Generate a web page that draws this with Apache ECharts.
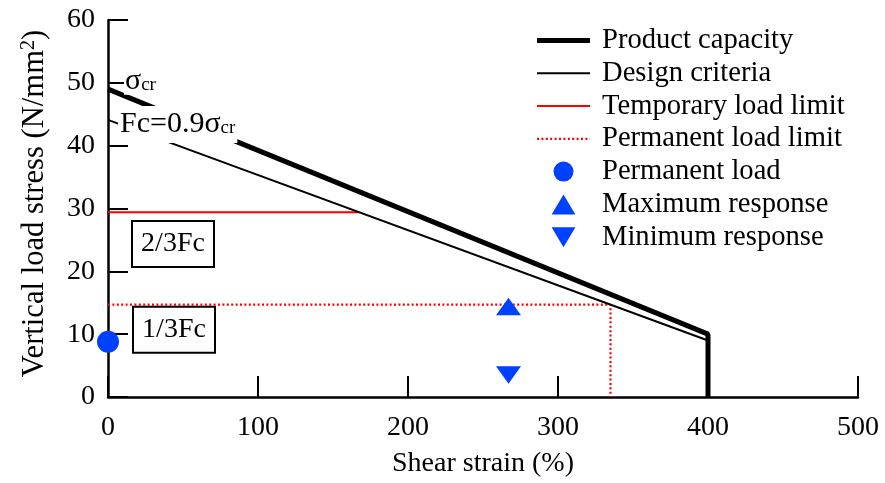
<!DOCTYPE html>
<html>
<head>
<meta charset="utf-8">
<script src="https://cdn.jsdelivr.net/npm/echarts@6/dist/echarts.min.js"></script>
<style>
html,body{margin:0;padding:0;background:#fff;}
#c{width:885px;height:483px;}
</style>
</head>
<body>
<div id="c"></div>
<script>
// ---- data ----
const xTicks = [0, 100, 200, 300, 400, 500];
const yTicks = [0, 10, 20, 30, 40, 50, 60];
const productCapacity = [[0, 49], [400, 10], [400, 0]];
const designCriteria = [[0, 44.1], [400, 9], [400, 0]];
const temporaryLoadLimit = [[0, 29.4], [167.5, 29.4]];
const permanentLoadLimit = [[0, 14.7], [335, 14.7], [335, 0]];
const permanentLoad = [[0, 8.8]];
const maximumResponse = [[267, 14.4]];
const minimumResponse = [[267, 3.5]];
const seriesNames = ['Product capacity', 'Design criteria', 'Temporary load limit',
  'Permanent load limit', 'Permanent load', 'Maximum response', 'Minimum response'];
// annotation anchors (data coords)
const sigmaAnchor = [0, 50];
const fcAnchor = [0, 43.7];
const twoThirdAnchor = [0, 24.35];
const oneThirdAnchor = [0, 10.7];

const FONT = '"Liberation Serif", "Times New Roman", serif';
const FS = 28;
const BLUE = '#0040ff';
const lineWidths = [5, 2, 2, 2.2];

const chart = echarts.init(document.getElementById('c'), null, {renderer: 'canvas'});
const legendData = seriesNames.map((n, i) => i < 4
  ? {name: n, itemStyle: {opacity: 0}, lineStyle: {width: lineWidths[i]}}
  : {name: n});
const option = {
  animation: false,
  backgroundColor: '#fff',
  textStyle: {fontFamily: FONT, color: '#000'},
  grid: {left: 108, right: 27, top: 20, bottom: 86, containLabel: false},
  legend: {
    orient: 'vertical',
    left: 534.5,
    top: 24,
    padding: 0,
    itemWidth: 53,
    itemHeight: 20,
    itemGap: 0,
    data: legendData,
    textStyle: {fontFamily: FONT, fontSize: 28.6, color: '#000', lineHeight: 32.8, padding: [0, 0, 0, 7]}
  },
  xAxis: {
    type: 'value', min: 0, max: 500, interval: 100,
    name: 'Shear strain (%)', nameLocation: 'middle', nameGap: 53,
    nameTextStyle: {fontFamily: FONT, fontSize: FS, color: '#000'},
    axisLine: {show: true, onZero: false, lineStyle: {color: '#000', width: 2.5}},
    axisTick: {show: true, inside: true, length: 21, lineStyle: {color: '#000', width: 2}},
    axisLabel: {fontFamily: FONT, fontSize: FS, color: '#000', margin: 17,
      formatter: v => xTicks.includes(v) ? String(v) : ''},
    splitLine: {show: false}
  },
  yAxis: {
    type: 'value', min: 0, max: 60, interval: 10,
    name: '{t|Vertical load stress (N/mm}{sup|2}{t|)}', nameLocation: 'middle', nameGap: 57,
    nameTextStyle: {fontFamily: FONT, fontSize: 30.6, color: '#000', padding: [0, 0, 0, 10],
      rich: {
        t: {fontFamily: FONT, fontSize: 30.6, color: '#000', lineHeight: 32},
        sup: {fontFamily: FONT, fontSize: 20, color: '#000', verticalAlign: 'top', lineHeight: 8}
      }},
    axisLine: {show: true, onZero: false, lineStyle: {color: '#000', width: 2.5}},
    axisTick: {show: true, inside: true, length: 20, lineStyle: {color: '#000', width: 2}},
    axisLabel: {fontFamily: FONT, fontSize: FS, color: '#000', margin: 13,
      formatter: v => yTicks.includes(v) ? String(v) : ''},
    splitLine: {show: false}
  },
  series: [
    {name: seriesNames[0], type: 'line', data: productCapacity, symbol: 'none', z: 4,
      lineStyle: {color: '#000', width: lineWidths[0]}, itemStyle: {color: '#000'}},
    {name: seriesNames[1], type: 'line', data: designCriteria, symbol: 'none', z: 3,
      lineStyle: {color: '#000', width: lineWidths[1]}, itemStyle: {color: '#000'}},
    {name: seriesNames[2], type: 'line', data: temporaryLoadLimit, symbol: 'none', z: 2,
      lineStyle: {color: '#ff0000', width: lineWidths[2]}, itemStyle: {color: '#ff0000'}},
    {name: seriesNames[3], type: 'line', data: permanentLoadLimit, symbol: 'none', z: 2,
      lineStyle: {color: '#ff0000', width: lineWidths[3], type: [2, 2.4]}, itemStyle: {color: '#ff0000'}},
    {name: seriesNames[4], type: 'scatter', data: permanentLoad, symbol: 'circle', symbolSize: 22,
      clip: false, z: 6, itemStyle: {color: BLUE, opacity: 1}},
    {name: seriesNames[5], type: 'scatter', data: maximumResponse, symbol: 'path://M12.5,0L25,21L0,21Z',
      symbolSize: [25, 21], symbolKeepAspect: true, clip: false, z: 6, itemStyle: {color: BLUE, opacity: 1}},
    {name: seriesNames[6], type: 'scatter', data: minimumResponse, symbol: 'path://M0,0L25,0L12.5,21Z',
      symbolSize: [25, 21], symbolKeepAspect: true, clip: false, z: 6, itemStyle: {color: BLUE, opacity: 1}}
  ]
};
chart.setOption(option);

const px = d => chart.convertToPixel({gridIndex: 0}, d);
const s = px(sigmaAnchor), f = px(fcAnchor), b2 = px(twoThirdAnchor), b1 = px(oneThirdAnchor);
const richLabel = {
  m: {fontFamily: FONT, fontSize: 30, color: '#000', lineHeight: 28},
  sub: {fontFamily: FONT, fontSize: 19, color: '#000', verticalAlign: 'bottom', lineHeight: 6}
};
chart.setOption({
  graphic: [
    {type: 'text', z: 50, x: s[0] + 16, y: s[1] - 2,
      style: {text: '{m|σ}{sub|cr}', rich: richLabel, verticalAlign: 'middle', align: 'left',
        backgroundColor: '#fff', padding: [0, 2, 0, 1]}},
    {type: 'text', z: 50, x: f[0] + 10, y: f[1] + 2,
      style: {text: '{m|Fc=0.9σ}{sub|cr}', rich: richLabel, verticalAlign: 'middle', align: 'left',
        backgroundColor: '#fff', padding: [4, 2, 5, 2]}},
    {type: 'text', z: 50, x: b2[0] + 65, y: b2[1],
      style: {text: '2/3Fc', fontFamily: FONT, fontSize: FS, fill: '#000', align: 'center', verticalAlign: 'middle',
        backgroundColor: '#fff', borderColor: '#000', borderWidth: 2, padding: [7, 7, 7, 7], width: 66, lineHeight: 30}},
    {type: 'text', z: 50, x: b1[0] + 66, y: b1[1],
      style: {text: '1/3Fc', fontFamily: FONT, fontSize: FS, fill: '#000', align: 'center', verticalAlign: 'middle',
        backgroundColor: '#fff', borderColor: '#000', borderWidth: 2, padding: [7, 7, 7, 7], width: 66, lineHeight: 30}}
  ]
});
</script>
</body>
</html>
